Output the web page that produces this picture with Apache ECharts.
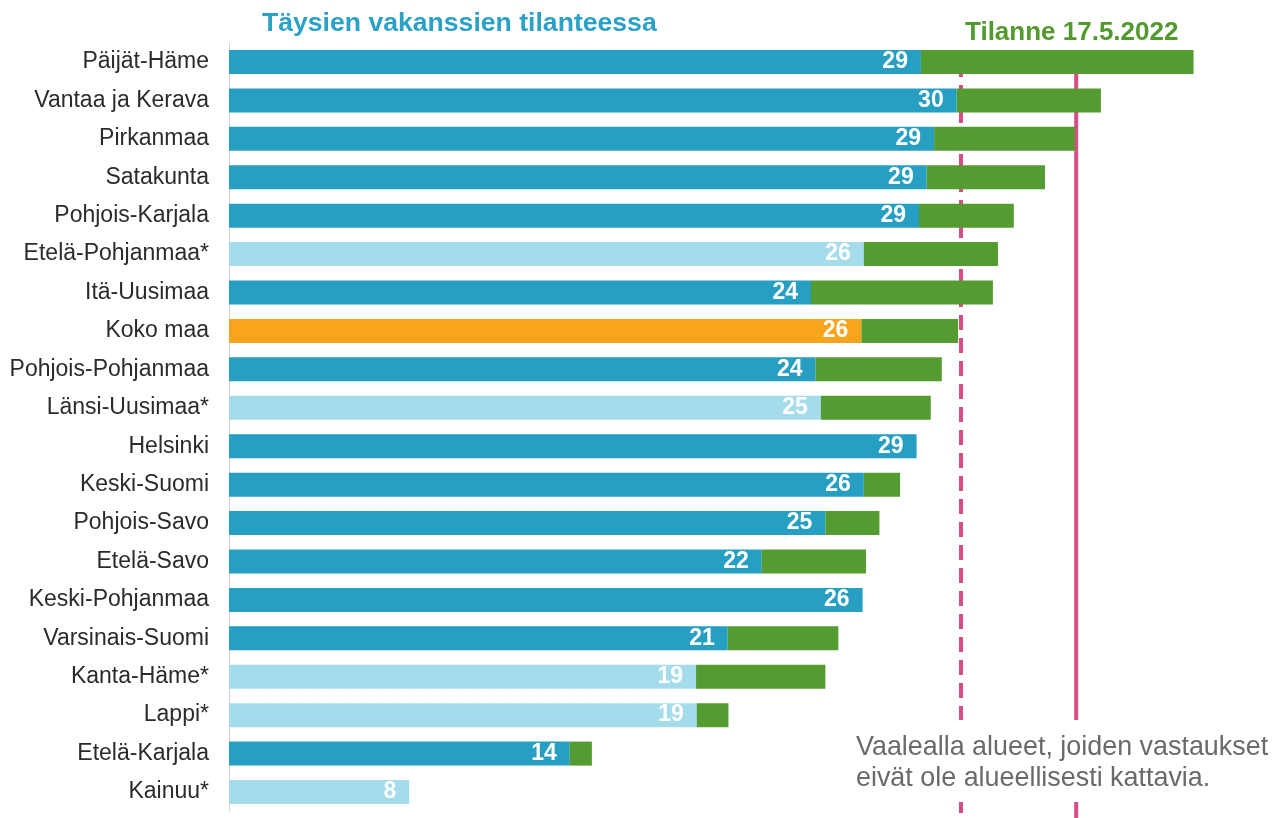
<!DOCTYPE html>
<html>
<head>
<meta charset="utf-8">
<script src="https://cdn.jsdelivr.net/npm/echarts@6/dist/echarts.min.js"></script>
<style>html,body{margin:0;padding:0;background:#fff}#c{width:1276px;height:818px}</style>
</head>
<body>
<div id="c"></div>
<script>
const categories = ["Päijät-Häme","Vantaa ja Kerava","Pirkanmaa","Satakunta","Pohjois-Karjala","Etelä-Pohjanmaa*","Itä-Uusimaa","Koko maa","Pohjois-Pohjanmaa","Länsi-Uusimaa*","Helsinki","Keski-Suomi","Pohjois-Savo","Etelä-Savo","Keski-Pohjanmaa","Varsinais-Suomi","Kanta-Häme*","Lappi*","Etelä-Karjala","Kainuu*"];
// Täysien vakanssien tilanteessa (blue part)
const fullValues = [28.83,30.32,29.38,29.07,28.75,26.45,24.25,26.35,24.44,24.66,28.65,26.45,24.85,22.2,26.4,20.78,19.46,19.49,14.2,7.51];
const fullLabels = [29,30,29,29,29,26,24,26,24,25,29,26,25,22,26,21,19,19,14,8];
// Tilanne 17.5.2022 (end of green part)
const currentValues = [40.19,36.33,35.25,34.0,32.7,32.04,31.83,30.38,29.7,29.24,28.65,27.96,27.1,26.54,26.4,25.39,24.85,20.81,15.12,7.51];
// kind: 0 = covering region, 1 = not covering (light), 2 = whole country
const kinds = [0,0,0,0,0,1,0,2,0,1,0,0,0,0,0,0,1,1,0,1];
// reference lines
const refLines = [30.5, 35.3];
const refDashed = [1, 0];

const kindColors = ['#279fc3', '#a5dcec', '#f8a51d'];
const green = '#549c31';
const pink = '#d64d87';

const chart = echarts.init(document.getElementById('c'), null, {renderer:'canvas'});
const FONT = '"Liberation Sans", Arial, sans-serif';

chart.setOption({
  animation: false,
  backgroundColor: '#fff',
  title: [
    {text: 'Täysien vakanssien tilanteessa', left: 262, top: 10, padding: 0,
     textStyle: {color: '#2aa2c7', fontSize: 26.6, fontWeight: 'bold', fontFamily: FONT}},
    {text: 'Tilanne 17.5.2022', left: 965, top: 20, padding: 0,
     textStyle: {color: '#529a2e', fontSize: 26, fontWeight: 'bold', fontFamily: FONT}}
  ],
  grid: {left: 229, top: 42.8, width: 1008, height: 768.4, containLabel: false},
  xAxis: {type: 'value', min: 0, max: 42, show: false},
  yAxis: {
    type: 'category', data: categories, inverse: true,
    axisLine: {show: true, lineStyle: {color: '#d4d4d4', width: 1}},
    axisTick: {show: false},
    axisLabel: {color: '#2b2b2b', fontSize: 23, fontFamily: FONT, margin: 20}
  },
  graphic: [
    {type: 'text', left: 856, top: 732, z: 100,
     style: {text: 'Vaalealla alueet, joiden vastaukset\neivät ole alueellisesti kattavia.',
             fill: '#6a6a6a', font: '26.9px ' + FONT, lineHeight: 31}},
    {type: 'rect', left: 940, top: 720, z: 99, shape: {width: 160, height: 82}, style: {fill: '#fff'}}
  ],
  series: [
    {
      type: 'custom', z: 1, coordinateSystem: 'cartesian2d',
      data: refLines.map((v, i) => [v, refDashed[i]]),
      encode: {x: 0},
      clip: false,
      renderItem: function (params, api) {
        const p = api.coord([api.value(0), 0]);
        const dashed = api.value(1) === 1;
        return {
          type: 'line',
          shape: {x1: p[0], y1: p[1], x2: p[0], y2: api.getHeight()},
          style: {stroke: pink, lineWidth: 4, lineDash: dashed ? [15, 8] : null}
        };
      }
    },
    {
      type: 'bar', stack: 'a', z: 3, barWidth: 24,
      data: fullValues.map((v, i) => ({value: v, itemStyle: {color: kindColors[kinds[i]]}})),
      label: {
        show: true, position: 'insideRight', distance: 13,
        formatter: p => String(fullLabels[p.dataIndex]),
        color: '#fff', fontSize: 23, fontWeight: 'bold', fontFamily: FONT
      }
    },
    {
      type: 'bar', stack: 'a', z: 3, barWidth: 24,
      itemStyle: {color: green},
      data: currentValues.map((v, i) => {
        const d = +(v - fullValues[i]).toFixed(2);
        return d > 0 ? d : null;
      })
    }
  ]
});
</script>
</body>
</html>
